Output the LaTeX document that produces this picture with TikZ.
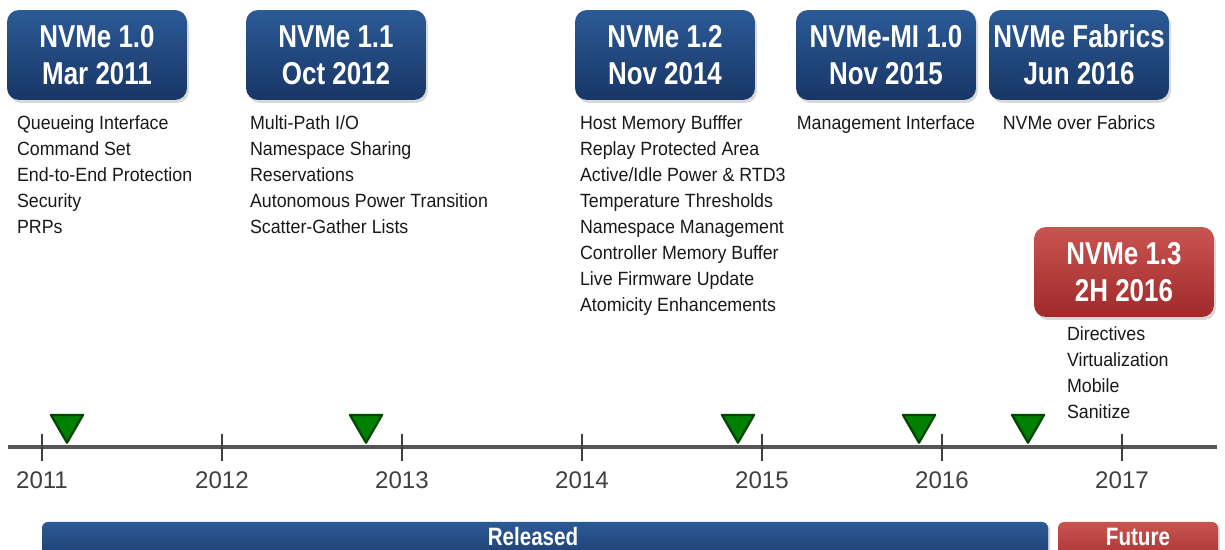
\documentclass[tikz,border=0pt]{standalone}
\usepackage{fontspec}
\setmainfont{Liberation Sans}
\newfontfamily\narrowfont[FakeStretch=0.82]{Liberation Sans}
\newfontfamily\featfont[FakeStretch=0.93]{Liberation Sans}
\usetikzlibrary{shapes.geometric, shadows}
\definecolor{bluetop}{RGB}{44,90,150}
\definecolor{bluebot}{RGB}{24,54,102}
\definecolor{redtop}{RGB}{202,84,80}
\definecolor{redbot}{RGB}{160,42,42}
\definecolor{mgreen}{RGB}{0,128,0}
\definecolor{mgreendark}{RGB}{0,70,0}
\definecolor{axisgray}{RGB}{85,85,85}
\definecolor{yeargray}{RGB}{64,64,64}
\definecolor{featblack}{RGB}{25,25,25}
\newcommand{\titlesize}{\fontsize{18}{21}\selectfont}
\newcommand{\featsize}{\fontsize{10.9}{14.8}\selectfont}
\newcommand{\yearsize}{\fontsize{13.7}{16}\selectfont}
\newcommand{\barsize}{\fontsize{14.3}{17}\selectfont}
\tikzstyle{release} = [rectangle, rounded corners=0.24cm, minimum width=3.6cm, minimum height=1.8cm, inner sep=1pt, align=center, text=white, font=\narrowfont\bfseries\titlesize, top color=bluetop, bottom color=bluebot, drop shadow={shadow xshift=0.04cm, shadow yshift=-0.06cm, opacity=0.3}]
\tikzstyle{future} = [release, top color=redtop, bottom color=redbot]
\tikzstyle{features} = [anchor=north west, inner sep=0pt, align=left, text=featblack, font=\featfont\featsize]
\tikzstyle{milestone} = [regular polygon, regular polygon sides=3, shape border rotate=180, minimum size=0.74cm, inner sep=0pt, fill=mgreen, draw=mgreendark, line width=1.3pt, line join=round, anchor=corner 1]
\tikzstyle{timeline} = [line width=2.3pt, draw=axisgray]
\tikzstyle{tickmark} = [line width=1.1pt, draw=yeargray]
\tikzstyle{year} = [text=yeargray, font=\yearsize]
\tikzstyle{barlabel} = [text=white, font=\narrowfont\bfseries\barsize]

\begin{document}
\begin{tikzpicture}[x=0.02cm, y=-0.02cm]
    \useasboundingbox (0,0) rectangle (1225,550);
    \clip (0,0) rectangle (1225,550);

    % spec releases
    \node (v10) [release] at (97,55) {NVMe 1.0\\Mar 2011};
    \node (v11) [release] at (336,55) {NVMe 1.1\\Oct 2012};
    \node (v12) [release] at (665,55) {NVMe 1.2\\Nov 2014};
    \node (vmi) [release] at (886,55) {NVMe-MI 1.0\\Nov 2015};
    \node (vfab) [release] at (1079,55) {NVMe Fabrics\\Jun 2016};
    \node (v13) [future] at (1124,272) {NVMe 1.3\\2H 2016};

    % feature lists
    \node (f10) [features] at ([xshift=0.2cm, yshift=-0.3cm] v10.south west) {Queueing Interface\\Command Set\\End-to-End Protection\\Security\\PRPs};
    \node (f11) [features] at ([xshift=0.08cm, yshift=-0.3cm] v11.south west) {Multi-Path I/O\\Namespace Sharing\\Reservations\\Autonomous Power Transition\\Scatter-Gather Lists};
    \node (f12) [features] at ([xshift=0.1cm, yshift=-0.3cm] v12.south west) {Host Memory Bufffer\\Replay Protected Area\\Active/Idle Power \& RTD3\\Temperature Thresholds\\Namespace Management\\Controller Memory Buffer\\Live Firmware Update\\Atomicity Enhancements};
    \node (fmi) [features, anchor=north] at ([yshift=-0.3cm] vmi.south) {Management Interface};
    \node (ffab) [features, anchor=north] at ([yshift=-0.3cm] vfab.south) {NVMe over Fabrics};
    \node (f13) [features] at ([xshift=0.66cm, yshift=-0.18cm] v13.south west) {Directives\\Virtualization\\Mobile\\Sanitize};

    % timeline
    \coordinate (tlstart) at (8,447);
    \coordinate (tlend) at (1217,447);
    \draw [timeline] (tlstart) -- (tlend);
    \foreach \yr [count=\i from 0] in {2011,...,2017} {
        \draw [tickmark] (42+180*\i,434) -- (42+180*\i,461);
        \node (y\yr) [year] at (42+180*\i,480) {\yr};
    }

    % milestones
    \node (m10) [milestone] at (67,445) {};
    \node (m11) [milestone] at (366,445) {};
    \node (m12) [milestone] at (738,445) {};
    \node (mmi) [milestone] at (919,445) {};
    \node (mfab) [milestone] at (1028,445) {};

    % status bars
    \path [top color=bluetop, bottom color=bluebot, rounded corners=0.12cm, drop shadow={shadow xshift=0.04cm, shadow yshift=-0.04cm, opacity=0.3}] (42,522) rectangle (1048,570);
    \path [top color=redtop, bottom color=redbot, rounded corners=0.12cm, drop shadow={shadow xshift=0.04cm, shadow yshift=-0.04cm, opacity=0.3}] (1058,522) rectangle (1218,570);
    \node (released) [barlabel] at (533,537) {Released};
    \node (future) [barlabel] at (1138,537) {Future};
\end{tikzpicture}
\end{document}
